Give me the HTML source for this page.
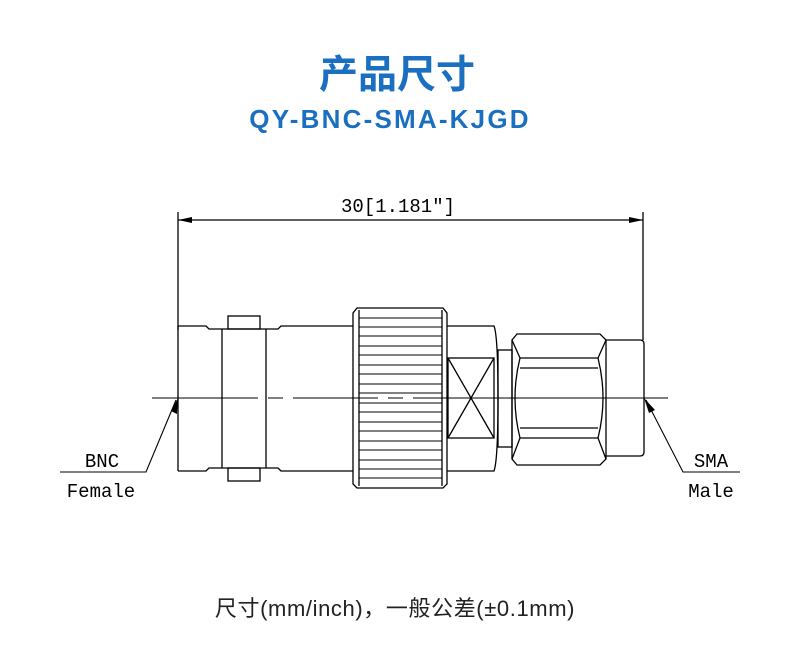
<!DOCTYPE html>
<html><head><meta charset="utf-8"><style>
body{margin:0;width:790px;height:662px;background:#fff;overflow:hidden}
svg{display:block}
</style></head><body>
<svg width="790" height="662" viewBox="0 0 790 662" xmlns="http://www.w3.org/2000/svg">
<text x="397" y="88" text-anchor="middle" font-family="'Liberation Sans','Noto Sans CJK SC',sans-serif" font-size="39" font-weight="bold" fill="#1a6fc0">产品尺寸</text>
<text x="390" y="128" text-anchor="middle" font-family="'Liberation Sans',sans-serif" font-size="26" font-weight="bold" fill="#1a6fc0" letter-spacing="2.2">QY-BNC-SMA-KJGD</text>
<g stroke="#000" stroke-width="1.3" fill="none">
<line x1="178" y1="212" x2="178" y2="330"/>
<line x1="643" y1="212" x2="643" y2="340"/>
<line x1="178" y1="220" x2="643" y2="220"/>
<path d="M178,326 H206 L209,329 H278 L281,326 H353 M178,471 H206 L209,468 H278 L281,471 H353 M178,326 V471"/>
<line x1="222" y1="329" x2="222" y2="468"/><line x1="266" y1="329" x2="266" y2="468"/>
<rect x="228" y="316" width="32" height="13"/><rect x="228" y="468" width="32" height="13"/>
<path d="M357,308 H443 L447,313 V484 L443,488 H357 L353,484 V313 Z"/>
<line x1="359" y1="310" x2="359" y2="486"/><line x1="442" y1="310" x2="442" y2="486"/>
<g stroke-width="1">
<line x1="359" y1="318" x2="442" y2="318"/><line x1="359" y1="327" x2="442" y2="327"/><line x1="359" y1="336" x2="442" y2="336"/><line x1="359" y1="346" x2="442" y2="346"/><line x1="359" y1="355" x2="442" y2="355"/><line x1="359" y1="365" x2="442" y2="365"/><line x1="359" y1="374" x2="442" y2="374"/><line x1="359" y1="384" x2="442" y2="384"/><line x1="359" y1="393" x2="442" y2="393"/><line x1="359" y1="403" x2="442" y2="403"/><line x1="359" y1="412" x2="442" y2="412"/><line x1="359" y1="422" x2="442" y2="422"/><line x1="359" y1="431" x2="442" y2="431"/><line x1="359" y1="441" x2="442" y2="441"/><line x1="359" y1="450" x2="442" y2="450"/><line x1="359" y1="460" x2="442" y2="460"/><line x1="359" y1="469" x2="442" y2="469"/><line x1="359" y1="478" x2="442" y2="478"/>
</g>
<path d="M447,326 H494 Q498,336 498,398 Q498,460 494,471 H447"/>
<rect x="448" y="358" width="46" height="80"/>
<line x1="448" y1="358" x2="494" y2="438"/><line x1="494" y1="358" x2="448" y2="438"/>
<rect x="498" y="350" width="14" height="97"/>
<path d="M517,334 H600 L606,340 V459 L600,465 H517 L512,459 V340 Z"/>
<path d="M512,340 L520,358 Q510,398 520,438 L512,459 M606,340 L598,358 Q608,398 598,438 L606,459"/>
<line x1="520" y1="358" x2="598" y2="358"/><line x1="520" y1="368" x2="598" y2="368"/>
<line x1="520" y1="428" x2="598" y2="428"/><line x1="520" y1="438" x2="598" y2="438"/>
<path d="M606,340 H640 Q644,340 644,344 V452 Q644,456 640,456 H606"/>
<path d="M152,398 H258 M268,398 H283 M293,398 H378 M388,398 H403 M413,398 H657" stroke-width="1"/>
<path d="M440,398 H450 M460,398 H470 M480,398 H505 M515,398 H560 M570,398 H580 M590,398 H668" stroke-width="1"/>
<path d="M176,400 L146,472 H60 M646,400 L683,472 H740" stroke-width="1.1"/>
</g>
<g fill="#000">
<path d="M178,220 L192,217 L192,223 Z"/><path d="M643,220 L629,217 L629,223 Z"/>
<path d="M178,398 L177,414 L171,411 Z"/><path d="M644,398 L655,410 L649,413 Z"/>
</g>
<g font-family="'Liberation Mono',monospace" font-size="19" fill="#000">
<text x="398" y="212" text-anchor="middle">30[1.181″]</text>
<text x="102" y="467" text-anchor="middle">BNC</text>
<text x="101" y="497" text-anchor="middle">Female</text>
<text x="711" y="467" text-anchor="middle">SMA</text>
<text x="711" y="497" text-anchor="middle">Male</text>
</g>
<text x="395" y="616" text-anchor="middle" font-family="'Liberation Sans','Noto Sans CJK SC',sans-serif" font-size="22" fill="#222" letter-spacing="0.6">尺寸(mm/inch)，一般公差(±0.1mm)</text>
</svg>
</body></html>
